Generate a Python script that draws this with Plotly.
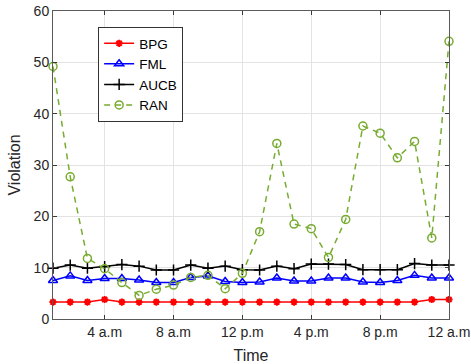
import plotly.graph_objects as go

hours = list(range(1, 25))
tick_vals = [4, 8, 12, 16, 20, 24]
tick_text = ["4 a.m", "8 a.m", "12 p.m", "4 p.m", "8 p.m", "12 a.m"]

bpg = [3.3, 3.3, 3.3, 3.8, 3.3, 3.3, 3.3, 3.3, 3.3, 3.3, 3.3, 3.3,
       3.3, 3.3, 3.3, 3.3, 3.3, 3.3, 3.3, 3.3, 3.3, 3.3, 3.8, 3.8]
fml = [7.5, 8.4, 7.5, 7.9, 7.9, 7.6, 7.1, 7.1, 8.1, 8.4, 7.3, 7.1,
       7.2, 8.0, 7.4, 7.4, 8.0, 8.0, 7.2, 7.1, 7.5, 8.5, 8.0, 8.0]
aucb = [9.9, 10.5, 9.9, 10.2, 10.6, 10.3, 9.55, 9.55, 10.5, 9.9, 10.3, 9.6,
        9.55, 10.3, 9.8, 10.7, 10.7, 10.6, 9.6, 9.6, 9.6, 10.8, 10.5, 10.5]
ran = [49.2, 27.7, 11.8, 9.8, 7.1, 4.6, 5.8, 6.6, 8.1, 8.5, 5.9, 8.9,
       17.0, 34.2, 18.5, 17.6, 12.0, 19.4, 37.6, 36.2, 31.4, 34.6, 15.8, 54.1]

FONT = "Liberation Sans, Arial, Helvetica"

fig = go.Figure()
fig.add_trace(go.Scatter(x=hours, y=bpg, name="BPG", mode="lines+markers",
                         line=dict(color="#FF0000", width=1.5),
                         marker=dict(symbol="asterisk-open", size=6,
                                     line=dict(color="#FF0000", width=2)),
                         cliponaxis=False))
fig.add_trace(go.Scatter(x=hours, y=fml, name="FML", mode="lines+markers",
                         line=dict(color="#0000FF", width=1.5),
                         marker=dict(symbol="triangle-up-open", size=8,
                                     line=dict(color="#0000FF", width=1.5)),
                         cliponaxis=False))
fig.add_trace(go.Scatter(x=hours, y=aucb, name="AUCB", mode="lines+markers",
                         line=dict(color="#000000", width=1.5),
                         marker=dict(symbol="cross-thin-open", size=8,
                                     line=dict(color="#000000", width=1.5)),
                         cliponaxis=False))
fig.add_trace(go.Scatter(x=hours, y=ran, name="RAN", mode="lines+markers",
                         line=dict(color="#77AC30", width=1.5, dash="6px,5px"),
                         marker=dict(symbol="circle-open", size=8,
                                     line=dict(color="#77AC30", width=1.5)),
                         cliponaxis=False))

axis_common = dict(showline=True, linecolor="#5a5a5a", linewidth=1,
                   mirror="ticks", ticks="inside", ticklen=4,
                   tickcolor="#3a3a3a", showgrid=True, gridcolor="#e3e3e3",
                   gridwidth=1, zeroline=False, automargin=False,
                   tickfont=dict(family=FONT, size=14, color="#262626"))

fig.update_xaxes(range=[1, 24], tickvals=tick_vals, ticktext=tick_text,
                 title=dict(text="Time", standoff=11,
                            font=dict(family=FONT, size=16, color="#262626")),
                 **axis_common)
fig.update_yaxes(range=[0, 60], tickvals=[0, 10, 20, 30, 40, 50, 60],
                 title=dict(text="Violation", standoff=9,
                            font=dict(family=FONT, size=16, color="#262626")),
                 **axis_common)

fig.update_layout(
    width=471, height=364,
    margin=dict(l=53, r=22, t=11, b=45),
    plot_bgcolor="white", paper_bgcolor="white",
    font=dict(family=FONT, color="#262626"),
    showlegend=True,
    legend=dict(x=0.114, y=0.948, xanchor="left", yanchor="top",
                bgcolor="white", bordercolor="#333333", borderwidth=1,
                font=dict(family=FONT, size=13.5, color="#000000"),
                tracegroupgap=0, itemwidth=30),
)

fig.write_html(
    "out.html",
    config={"displayModeBar": False},
    post_script="document.body.style.margin='0';document.body.style.overflow='hidden';",
)
